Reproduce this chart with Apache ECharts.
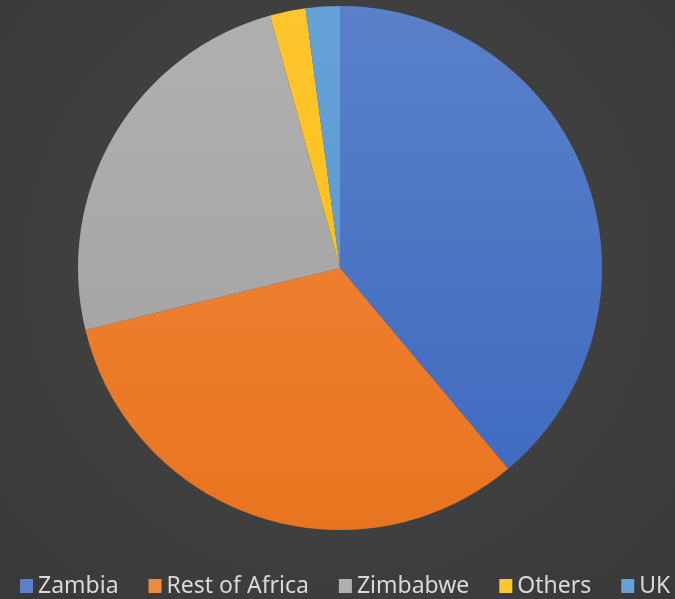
<!DOCTYPE html>
<html>
<head>
<meta charset="utf-8">
<script src="https://cdn.jsdelivr.net/npm/echarts@6/dist/echarts.min.js"></script>
<style>
  html, body { margin: 0; padding: 0; background: #404040; }
  #chart { width: 675px; height: 599px; }
</style>
</head>
<body>
<div id="chart"></div>
<script>
const categories = ['Zambia', 'Rest of Africa', 'Zimbabwe', 'Others', 'UK']
const shares = [38.9, 32.3, 24.5, 2.2, 2.1]

// top / bottom shade for each slice (office style soft gradient)
const topColors = ['#5A80C9', '#F28A3E', '#B0B0B0', '#FFC62E', '#66A2D8']
const bottomColors = ['#3C69BF', '#E9741F', '#A0A0A0', '#FBBB0A', '#5595D1']

const shade = i => ({
  type: 'linear', global: true,
  x: 0, y: 6, x2: 0, y2: 530,
  colorStops: [
    { offset: 0, color: topColors[i] },
    { offset: 1, color: bottomColors[i] }
  ]
})

const chart = echarts.init(document.getElementById('chart'))
chart.setOption({
  backgroundColor: {
    type: 'radial', x: 0.5, y: 0.45, r: 0.75,
    colorStops: [
      { offset: 0, color: '#484848' },
      { offset: 1, color: '#393939' }
    ]
  },
  color: topColors,
  legend: {
    top: 574,
    left: 20,
    padding: 0,
    icon: 'rect',
    itemWidth: 13,
    itemHeight: 14,
    itemGap: 30,
    textStyle: { color: '#d9d9d9', fontSize: 23, lineHeight: 24, fontFamily: "'Noto Sans', sans-serif" },
    data: categories
  },
  series: [{
    type: 'pie',
    center: [340, 268],
    radius: [0, 262],
    startAngle: 90,
    clockwise: true,
    label: { show: false },
    labelLine: { show: false },
    emphasis: { disabled: true },
    data: categories.map((name, i) => ({
      name,
      value: shares[i],
      itemStyle: { color: shade(i) }
    }))
  }]
})
</script>
</body>
</html>
